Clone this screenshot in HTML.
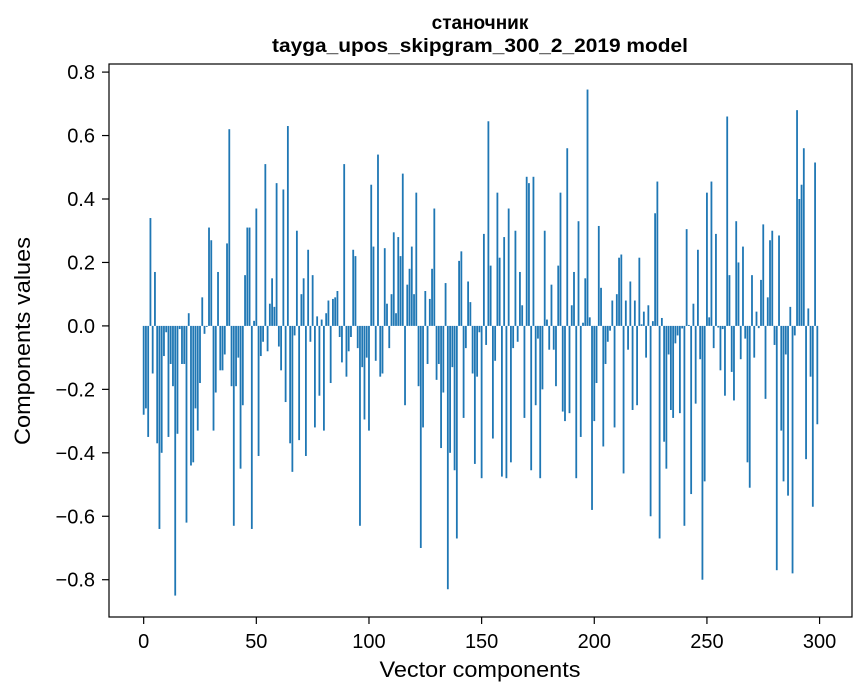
<!DOCTYPE html>
<html><head><meta charset="utf-8"><style>
html,body{margin:0;padding:0;background:#fff;}
svg{display:block;font-family:"Liberation Sans","DejaVu Sans",sans-serif;}
</style></head><body>
<svg id="chart" width="867" height="696" viewBox="0 0 867 696" xmlns="http://www.w3.org/2000/svg">
<rect x="0" y="0" width="867" height="696" fill="#fff"/>
<text x="480" y="29" text-anchor="middle" font-size="19" font-weight="bold">станочник</text>
<text x="480" y="52" text-anchor="middle" font-size="19" font-weight="bold" textLength="416" lengthAdjust="spacingAndGlyphs">tayga_upos_skipgram_300_2_2019 model</text>
<g id="bars"></g>
<g id="xticks"></g>
<g id="yticks"></g>
<rect x="109" y="64" width="743" height="553" fill="none" stroke="#000" stroke-width="1.2"/>
<text x="480" y="677" text-anchor="middle" font-size="22" textLength="201" lengthAdjust="spacingAndGlyphs">Vector components</text>
<text x="0" y="0" transform="translate(30,341) rotate(-90)" text-anchor="middle" font-size="22" textLength="208" lengthAdjust="spacingAndGlyphs">Components values</text>
</svg>
<script>
const values = [
-0.28,-0.26,-0.35,0.34,-0.15,0.17,-0.37,-0.64,-0.40,-0.095,
-0.02,-0.35,-0.12,-0.19,-0.85,-0.34,-0.01,-0.12,-0.12,-0.62,
0.04,-0.44,-0.43,-0.26,-0.33,-0.18,0.09,-0.025,-0.003,0.31,
0.27,-0.33,-0.21,0.17,-0.14,-0.14,-0.09,0.26,0.62,-0.19,
-0.63,-0.19,-0.10,-0.45,-0.25,0.16,0.31,0.31,-0.64,0.016,
0.37,-0.41,-0.095,-0.05,0.51,-0.08,0.07,0.15,0.06,0.45,
-0.065,-0.14,0.43,-0.24,0.63,-0.37,-0.46,-0.03,0.30,-0.36,
0.10,0.15,-0.41,0.24,-0.05,0.16,-0.32,0.03,-0.22,0.02,
-0.33,0.04,0.08,-0.18,0.085,0.09,0.11,-0.035,-0.115,0.51,
-0.16,-0.08,-0.035,0.24,0.22,-0.07,-0.63,-0.13,-0.295,-0.10,
-0.33,0.445,0.25,-0.11,0.54,-0.16,-0.15,0.245,0.07,-0.07,
0.10,0.295,0.04,0.28,0.22,0.48,-0.25,0.13,0.18,0.25,
0.10,0.42,-0.19,-0.70,-0.32,0.11,-0.12,0.085,0.18,0.37,
-0.17,-0.12,-0.385,-0.21,0.135,-0.83,-0.40,-0.13,-0.455,-0.67,
0.205,0.235,-0.29,-0.07,0.14,0.075,-0.15,-0.435,-0.16,-0.02,
-0.48,0.29,-0.06,0.645,0.19,-0.355,-0.11,0.42,0.215,-0.475,
0.28,-0.48,0.37,-0.43,-0.07,0.30,-0.05,0.17,0.065,-0.29,
0.47,0.45,-0.455,0.47,-0.25,-0.04,-0.48,-0.20,0.30,0.02,
-0.075,0.13,-0.075,-0.19,0.19,0.42,-0.27,-0.30,0.56,-0.275,
0.065,0.17,-0.48,0.33,-0.35,0.01,0.15,0.745,0.027,-0.58,
-0.30,-0.18,0.315,0.12,-0.38,-0.12,-0.05,-0.015,0.08,-0.32,
0.10,0.215,0.225,-0.465,0.08,-0.075,0.14,-0.265,0.08,-0.25,
0.215,0.005,0.045,-0.10,0.065,-0.60,0.015,0.355,0.455,-0.67,
0.025,-0.365,-0.45,-0.09,-0.265,-0.29,-0.055,-0.03,-0.275,-0.008,
-0.63,0.305,0.003,-0.53,0.07,-0.245,0.24,-0.105,-0.80,-0.49,
0.42,0.027,0.455,-0.07,0.29,-0.005,-0.14,-0.01,-0.22,0.66,
0.16,-0.145,-0.235,0.33,0.20,-0.105,0.25,-0.04,-0.43,-0.51,
0.16,-0.10,0.045,-0.007,0.145,0.32,-0.23,0.09,0.27,0.30,
-0.06,-0.77,0.285,-0.33,-0.49,-0.09,-0.535,0.06,-0.78,-0.03,
0.68,0.40,0.445,0.56,-0.42,0.055,-0.16,-0.57,0.515,-0.31
];
const xTickValues = [0,50,100,150,200,250,300];
const xTickLabels = ["0","50","100","150","200","250","300"];
const yTickValues = [-0.8,-0.6,-0.4,-0.2,0.0,0.2,0.4,0.6,0.8];
const yTickLabels = ["\u22120.8","\u22120.6","\u22120.4","\u22120.2","0.0","0.2","0.4","0.6","0.8"];

const NS="http://www.w3.org/2000/svg";
const L=109,R=852,T=64,B=617;
const xMin=-15.39,xMax=314.39;
const yMin=-0.9175,yMax=0.8255;
function xs(v){return L+(v-xMin)/(xMax-xMin)*(R-L);}
function ys(v){return T+(yMax-v)/(yMax-yMin)*(B-T);}

const bars=document.getElementById('bars');
values.forEach((v,i)=>{
  const r=document.createElementNS(NS,'rect');
  const x0=xs(i-0.4),x1=xs(i+0.4);
  const y0=ys(Math.max(v,0)),y1=ys(Math.min(v,0));
  r.setAttribute('x',x0);r.setAttribute('width',x1-x0);
  r.setAttribute('y',y0);r.setAttribute('height',Math.max(y1-y0,0.3));
  r.setAttribute('fill','#1f77b4');
  
  
  bars.appendChild(r);
});

const xg=document.getElementById('xticks');
xTickValues.forEach((v,i)=>{
  const x=xs(v);
  const l=document.createElementNS(NS,'line');
  l.setAttribute('x1',x);l.setAttribute('x2',x);l.setAttribute('y1',B);l.setAttribute('y2',B+7);
  l.setAttribute('stroke','#000');l.setAttribute('stroke-width','1.2');
  
  
  xg.appendChild(l);
  const t=document.createElementNS(NS,'text');
  t.setAttribute('x',x);t.setAttribute('y',B+31);t.setAttribute('text-anchor','middle');t.setAttribute('font-size','20');
  t.textContent=xTickLabels[i];
  
  
  xg.appendChild(t);
});
const yg=document.getElementById('yticks');
yTickValues.forEach((v,i)=>{
  const y=ys(v);
  const l=document.createElementNS(NS,'line');
  l.setAttribute('x1',L-7);l.setAttribute('x2',L);l.setAttribute('y1',y);l.setAttribute('y2',y);
  l.setAttribute('stroke','#000');l.setAttribute('stroke-width','1.2');
  
  
  yg.appendChild(l);
  const t=document.createElementNS(NS,'text');
  t.setAttribute('x',L-14);t.setAttribute('y',y+7);t.setAttribute('text-anchor','end');t.setAttribute('font-size','20');
  t.textContent=yTickLabels[i];
  
  
  yg.appendChild(t);
});
</script>
</body></html>
